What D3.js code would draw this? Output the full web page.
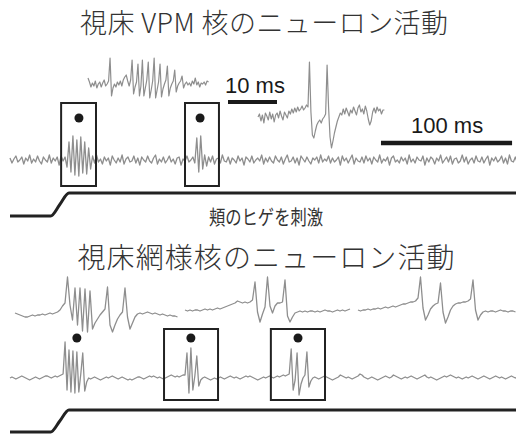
<!DOCTYPE html>
<html>
<head>
<meta charset="utf-8">
<script src="https://cdn.jsdelivr.net/npm/d3@7"></script>
<style>
  body { margin: 0; background: #fff; }
</style>
</head>
<body>
<div id="chart"></div>
<script>
// ---- data ----------------------------------------------------------------
// main recordings, sampled every 1.5 ms, values relative to baseline
var dtMain = 1.5;
var vpmTrace = [
  2,-3,1,4,-2,0,3,-4,2,-1,5,-3,1,-2,4,-1,-4,3,0,-2,5,-3,2,-1,3,-5,4,-1,
  3,-7,18,-12,24,-15,20,-16,23,-13,18,-14,12,-9,4,
  -3,5,-2,1,-4,3,-1,2,-5,4,0,-3,2,-2,5,-4,1,3,-2,-1,4,-3,2,-5,3,0,-2,4,-1,-3,2,5,-4,1,-2,3,-3,0,4,-2,1,-4,2,3,-5,1,-1,4,-2,0,3,-3,
  22,-12,24,-9,5,-6,
  3,-2,4,-4,1,2,-3,5,-1,-2,3,-4,2,0,-3,4,-1,2,-5,3,
  1,-2,4,-3,0,2,-1,5,-4,2,-2,3,-1,-3,4,0,-2,3,-4,1,
  5,-2,-1,3,-3,2,-5,4,1,-2,3,-1,-4,2,0,3,-3,5,-2,1,
  -1,4,-3,2,-2,0,3,-5,4,-1,2,-3,1,5,-4,2,-1,-2,3,-3,
  4,-1,2,-4,3,0,-2,5,-3,1,-1,3,-5,2,4,-2,0,-3,3,-1,
  2,-4,5,-2,1,-3,3,0,-1,4,-5,2,-2,3,1,-4,2,-1,5,-3,
  0,3,-2,4,-4,1,2,-3,-1,5,-2,3,-4,0,2,-3,4,-1,-2,3,
  -3,1,4,-5,2,-1,3,-2,0,4,-3,2,-4,5,-1,-2,3,-3,1,2
];
var rtTrace = [
  0,1,0,-1,0,1,2,1,0,-1,-2,-1,0,1,0,-1,0,1,2,2,1,0,1,2,1,2,3,
  4,36,-12,28,-14,27,-15,26,-14,4,25,-13,-4,0,
  -1,0,1,0,-1,-2,-1,0,1,0,1,2,1,0,-1,0,1,0,-1,-2,-1,-2,-1,0,1,1,0,-1,0,1,2,1,2,1,0,1,0,-1,0,1,2,3,2,1,2,1,2,3,
  3,25,-15,30,-12,2,22,-8,-2,0,
  1,0,-1,-2,-1,0,-1,0,1,0,-1,0,1,2,1,0,1,0,-1,0,1,2,1,2,1,0,-1,-2,-1,0,1,0,1,2,1,0,1,2,1,2,3,2,3,
  4,29,-12,-2,25,-17,-6,0,3,26,-9,-3,0,
  1,0,-1,0,1,2,1,0,-1,-2,-1,0,1,3,2,1,0,1,0,-1,0,1,2,4,3,1,0,-1,0,1,0,-1,-2,-1,0,1,2,1,0,1,3,2,1,0,-1,0,1,0,1,2,
  1,0,-1,0,1,2,3,1,0,1,0,-1,-2,-1,0,1,2,1,2,3,2,1,0,1,0,-1,0,1,0,1,2,1,0,-1,0,1,2,1,0,-1,0,1,2,1,0,1,0,-1,0,1,2,1,0,1,0
];

// zoomed VPM insets, sampled every 0.3 ms
var dtZoom = 0.3;
var vpmZoomBurst = [
  6,2,-3,1,-2,3,-4,0,2,-3,1,4,-2,0,3,
  26,-12,-4,
  0,-3,2,-1,3,-2,4,7,9,3,-2,4,
  24,-10,-3,2,
  20,-12,-2,
  24,-12,-4,4,
  22,-14,-6,3,
  26,-14,-6,2,
  20,-13,-5,0,4,
  18,-12,-4,0,3,
  14,-8,-2,1,3,
  8,-4,0,
  2,-1,1,-2,3,0,6,-1,2,-3,1,0,2,-1,3,2
];
var vpmZoomTonic = [
  0,3,-4,2,-6,4,1,-3,5,-2,3,-5,2,4,-1,6,1,-3,5,2,-1,6,
  3,8,4,9,5,10,6,8,11,7,9,12,10,
  55,5,-18,-21,-14,-8,-5,-3,-6,-2,0,3,52,10,-20,-31,-24,-16,-10,-4,0,
  4,2,8,3,9,5,1,7,4,10,6,2,9,12,5,8,3,11,6,-2,-8,-4,5,9,4,10,6,8,3,7,7
];

// zoomed reticular insets, sampled every 0.5 ms
var dtRt = 0.5;
var rtZoom1 = [
  2,1,0,-1,-2,-2,-1,0,-1,0,0,1,0,1,2,1,2,3,5,9,12,
  38,10,-5,27,-10,27,-16,26,-17,24,-14,-8,-4,0,3,6,
  28,-10,-17,-10,-4,0,3,27,-2,-14,-8,-2,1,
  2,1,2,3,2,1,2,1,0,1,0,-1,0,-1,-1,-2
];
var rtZoom2 = [
  2,1,2,1,2,2,1,2,3,2,3,2,3,4,3,4,5,6,
  7,8,9,11,10,9,10,9,10,12,30,0,-10,-2,5,35,6,-1,6,9,9,10,32,-4,-10,-5,-1,0,
  1,0,1,0,1,1,0,1,0,1,2,1,1,0,1,2,1,2,1,2,3
];
var rtZoom3 = [
  2,1,2,2,3,2,3,3,4,3,4,5,4,5,6,5,6,7,8,8,9,10,10,
  11,14,35,4,-8,-3,3,6,8,9,29,0,-11,-5,2,6,8,9,9,10,10,11,13,32,2,-8,-3,0,
  1,0,1,1,0,1,2,1,1,0,1,1,0
];

// whisker stimulus (time ms, 0 = rest, 1 = deflected)
var stimulus = [[0, 0], [31, 0], [38, 0.5], [45, 1], [386, 1]];

// boxed bursts [start, end] in ms, and dot marks (ms)
var vpmBoxes = [[39, 65.6], [133.5, 159.4]];
var vpmDots = [52.6, 145];
var rtBoxes = [[117.5, 158.7], [199, 240.3]];
var rtDots = [51, 138, 219.7];

var titles = ["視床 VPM 核のニューロン活動", "視床網様核のニューロン活動"];
var stimLabel = "頬のヒゲを刺激";
var scaleBars = [{ms: 100, label: "100 ms"}, {ms: 10, label: "10 ms"}];

// ---- drawing -------------------------------------------------------------
var width = 516, height = 436;
var svg = d3.select("#chart").append("svg")
  .attr("width", width)
  .attr("height", height);

var traceColor = "#8e8e8e", ink = "#1a1a1a";
var cjk = "'Noto Sans CJK JP', sans-serif";

// main time axis shared by both recordings and the stimulus
var xMain = d3.scaleLinear().domain([0, 386]).range([10, 516]);
var yVpm = d3.scaleLinear().domain([-50, 50]).range([210, 110]);
var yRt = d3.scaleLinear().domain([-50, 50]).range([428, 328]);

function drawTrace(values, dt, x, y, w) {
  var line = d3.line()
    .x(function(d, i) { return x(i * dt); })
    .y(function(d) { return y(d); });
  svg.append("path")
    .datum(values)
    .attr("fill", "none")
    .attr("stroke", traceColor)
    .attr("stroke-width", w)
    .attr("stroke-linejoin", "round")
    .attr("d", line);
}

// inset scales: 10 ms = 49 px for VPM, 10 ms = 50 px for reticular
function insetX(left, pxPer10) {
  return d3.scaleLinear().domain([0, 10]).range([left, left + pxPer10]);
}
function insetY(base) {
  return d3.scaleLinear().domain([-50, 50]).range([base + 50, base - 50]);
}

// titles
svg.append("text")
  .attr("x", 264).attr("y", 33)
  .attr("text-anchor", "middle")
  .attr("textLength", 368).attr("lengthAdjust", "spacing")
  .style("font-family", cjk).style("font-size", "27px").style("font-weight", 300)
  .attr("fill", "#333")
  .text(titles[0]);
svg.append("text")
  .attr("x", 266).attr("y", 268)
  .attr("text-anchor", "middle")
  .attr("textLength", 377).attr("lengthAdjust", "spacing")
  .style("font-family", cjk).style("font-size", "28px").style("font-weight", 300)
  .attr("fill", "#333")
  .text(titles[1]);

// VPM insets
drawTrace(vpmZoomBurst, dtZoom, insetX(88, 49), insetY(84), 1.2);
drawTrace(vpmZoomTonic, dtZoom, insetX(258, 49), insetY(117), 1.2);

// scale bars
var bar10 = insetX(228, 49);
svg.append("line")
  .attr("x1", bar10(0)).attr("x2", bar10(scaleBars[1].ms))
  .attr("y1", 102).attr("y2", 102)
  .attr("stroke", ink).attr("stroke-width", 4);
svg.append("text")
  .attr("x", 225).attr("y", 93)
  .style("font-family", "'Liberation Sans', Arial, sans-serif").style("font-size", "22px")
  .attr("fill", ink)
  .text(scaleBars[1].label);

svg.append("line")
  .attr("x1", xMain(283)).attr("x2", xMain(283 + scaleBars[0].ms))
  .attr("y1", 143).attr("y2", 143)
  .attr("stroke", ink).attr("stroke-width", 4.5);
svg.append("text")
  .attr("x", 411).attr("y", 133)
  .style("font-family", "'Liberation Sans', Arial, sans-serif").style("font-size", "22px")
  .attr("fill", ink)
  .text(scaleBars[0].label);

// main traces
drawTrace(vpmTrace, dtMain, xMain, yVpm, 1.3);
drawTrace(rtTrace, dtMain, xMain, yRt, 1.3);

// reticular insets
drawTrace(rtZoom1, dtRt, insetX(15, 50), insetY(315), 1.3);
drawTrace(rtZoom2, dtRt, insetX(185, 50), insetY(312), 1.3);
drawTrace(rtZoom3, dtRt, insetX(358, 50), insetY(312), 1.3);

// boxes and dots
function drawBoxes(boxes, y, top, bottom) {
  svg.append("g").selectAll("rect")
    .data(boxes)
    .enter()
    .append("rect")
      .attr("x", function(d) { return xMain(d[0]); })
      .attr("y", y(top))
      .attr("width", function(d) { return xMain(d[1]) - xMain(d[0]); })
      .attr("height", y(bottom) - y(top))
      .attr("fill", "none")
      .attr("stroke", "#222")
      .attr("stroke-width", 2);
}
function drawDots(dots, y, v) {
  svg.append("g").selectAll("circle")
    .data(dots)
    .enter()
    .append("circle")
      .attr("cx", function(d) { return xMain(d); })
      .attr("cy", y(v))
      .attr("r", 4.5)
      .attr("fill", "#1a1a1a");
}
drawBoxes(vpmBoxes, yVpm, 57, -26);
drawDots(vpmDots, yVpm, 42);
drawBoxes(rtBoxes, yRt, 49, -22);
drawDots(rtDots, yRt, 40);

// stimulus lines
var stimLine1 = d3.scaleLinear().domain([0, 1]).range([216, 193]);
var stimLine2 = d3.scaleLinear().domain([0, 1]).range([432, 410]);
[stimLine1, stimLine2].forEach(function(ys) {
  svg.append("path")
    .datum(stimulus)
    .attr("fill", "none")
    .attr("stroke", "#222")
    .attr("stroke-width", 3)
    .attr("d", d3.line()
      .curve(d3.curveMonotoneX)
      .x(function(d) { return xMain(d[0]); })
      .y(function(d) { return ys(d[1]); }));
});

svg.append("text")
  .attr("x", 266).attr("y", 225)
  .attr("text-anchor", "middle")
  .attr("textLength", 114).attr("lengthAdjust", "spacingAndGlyphs")
  .style("font-family", cjk).style("font-size", "20px")
  .attr("fill", "#333")
  .text(stimLabel);
</script>
</body>
</html>
